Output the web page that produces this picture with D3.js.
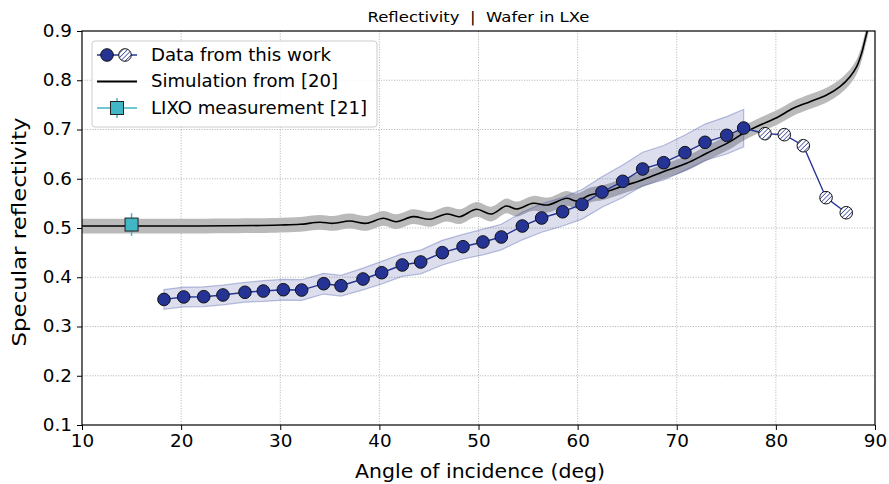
<!DOCTYPE html>
<html>
<head>
<meta charset="utf-8">
<script src="https://cdn.jsdelivr.net/npm/d3@7"></script>
<style>
  html, body { margin: 0; padding: 0; background: #fff; }
  svg { display: block; font-family: "DejaVu Sans", sans-serif; }
</style>
</head>
<body>
<svg id="chart" width="889" height="484"></svg>
<script>
// ---- Data ----
const dataAngle = [18.27, 20.26, 22.28, 24.22, 26.44, 28.29, 30.31, 32.16, 34.38, 36.13,
  38.35, 40.23, 42.31, 44.17, 46.35, 48.44, 50.45, 52.30, 54.42, 56.37,
  58.49, 60.44, 62.46, 64.55, 66.56, 68.68, 70.83, 72.85, 75.04, 76.75];
const dataRefl = [0.355, 0.360, 0.3605, 0.364, 0.3695, 0.372, 0.3747, 0.374, 0.3869, 0.3828,
  0.3964, 0.4092, 0.4249, 0.431, 0.4499, 0.462, 0.4716, 0.4817, 0.504, 0.5203,
  0.533, 0.548, 0.573, 0.5948, 0.6198, 0.6326, 0.653, 0.674, 0.6882, 0.703];
const dataErr = [0.020, 0.020, 0.020, 0.020, 0.020, 0.021, 0.021, 0.021, 0.021, 0.021,
  0.022, 0.023, 0.023, 0.024, 0.025, 0.025, 0.026, 0.026, 0.028, 0.029,
  0.029, 0.030, 0.031, 0.033, 0.034, 0.035, 0.036, 0.037, 0.038, 0.038];
const hatchAngle = [76.75, 78.9, 80.85, 82.77, 85.06, 87.1];
const hatchRefl = [0.703, 0.6915, 0.6895, 0.667, 0.5616, 0.531];

const simAngle = [10, 15, 20, 25, 28, 30, 32, 34.0, 35.35, 37.0, 38.7, 40.4, 41.7, 43.4, 45.1,
  46.8, 48.1, 49.8, 51.3, 52.8, 53.85, 55.5, 57.0, 58.9, 59.9, 61.25, 62.59, 64.6, 66.29,
  68.64, 71.0, 73.02, 75.37, 76.71, 78.4, 80.08, 81.76, 83.44, 85.12, 86.47, 87.48, 88.15,
  88.65, 88.99, 89.32, 89.6];
const simRefl = [0.504, 0.504, 0.504, 0.5045, 0.505, 0.506, 0.5075, 0.5116, 0.5095, 0.5142,
  0.5095, 0.5197, 0.5128, 0.523, 0.5177, 0.5284, 0.523, 0.538, 0.5284, 0.5447, 0.5386,
  0.5501, 0.5467, 0.5603, 0.5548, 0.567, 0.5717, 0.5853, 0.596, 0.6143, 0.6313, 0.6517,
  0.6753, 0.6923, 0.709, 0.724, 0.743, 0.7565, 0.770, 0.787, 0.807, 0.8275, 0.8547,
  0.8817, 0.909, 0.95];
const simErr = 0.015;

const lixoAngle = [15];
const lixoRefl = [0.507];
const lixoErr = [0.023];

const xTicks = [10, 20, 30, 40, 50, 60, 70, 80, 90];
const yTicks = [0.1, 0.2, 0.3, 0.4, 0.5, 0.6, 0.7, 0.8, 0.9];
const legendLabels = ["Data from this work", "Simulation from [20]", "LIXO measurement [21]"];
const titleText = "Reflectivity  |  Wafer in LXe";
const xLabel = "Angle of incidence (deg)";
const yLabel = "Specular reflectivity";

// ---- Layout ----
const W = 889, H = 484;
const m = { left: 82, right: 14, top: 31, bottom: 59 };
const svg = d3.select("#chart");
const x = d3.scaleLinear().domain([10, 90]).range([m.left, W - m.right]);
const y = d3.scaleLinear().domain([0.1, 0.9]).range([H - m.bottom, m.top]);

const navy = "#253494";
const cyan = "#41b6c4";

function stretch(sel, factor) {
  sel.each(function () {
    const L = this.getComputedTextLength();
    d3.select(this).attr("textLength", L * factor).attr("lengthAdjust", "spacingAndGlyphs");
  });
}
function fitTo(sel, len) {
  sel.attr("textLength", len).attr("lengthAdjust", "spacingAndGlyphs");
}

const defs = svg.append("defs");
defs.append("clipPath").attr("id", "clip").append("rect")
  .attr("x", m.left).attr("y", m.top)
  .attr("width", W - m.left - m.right).attr("height", H - m.top - m.bottom);
const pat = defs.append("pattern").attr("id", "hatch")
  .attr("patternUnits", "userSpaceOnUse").attr("width", 3.2).attr("height", 3.2)
  .attr("patternTransform", "rotate(45)");
pat.append("rect").attr("width", 3.2).attr("height", 3.2).attr("fill", "#fff");
pat.append("line").attr("x1", 0).attr("y1", 0).attr("x2", 0).attr("y2", 3.2)
  .attr("stroke", navy).attr("stroke-width", 1.4);

// grid
const grid = svg.append("g");
grid.selectAll(".gx").data(xTicks.slice(1, -1)).enter().append("line")
  .attr("x1", d => x(d)).attr("x2", d => x(d)).attr("y1", m.top).attr("y2", H - m.bottom)
  .attr("stroke", "#a0a0a0").attr("stroke-width", 0.8).attr("stroke-dasharray", "1,1.6");
grid.selectAll(".gy").data(yTicks.slice(1, -1)).enter().append("line")
  .attr("y1", d => y(d)).attr("y2", d => y(d)).attr("x1", m.left).attr("x2", W - m.right)
  .attr("stroke", "#a0a0a0").attr("stroke-width", 0.8).attr("stroke-dasharray", "1,1.6");

const plot = svg.append("g").attr("clip-path", "url(#clip)");

// simulation band + line
const simData = simAngle.map((a, i) => ({ a, r: simRefl[i] }));
plot.append("path").datum(simData)
  .attr("d", d3.area().x(d => x(d.a)).y0(d => y(d.r - simErr)).y1(d => y(d.r + simErr))
    .curve(d3.curveCatmullRom.alpha(0.5)))
  .attr("fill", "#bababa");

// data band
const dData = dataAngle.map((a, i) => ({ a, r: dataRefl[i], e: dataErr[i] }));
plot.append("path").datum(dData)
  .attr("d", d3.area().x(d => x(d.a)).y0(d => y(d.r - d.e)).y1(d => y(d.r + d.e)))
  .attr("fill", navy).attr("fill-opacity", 0.16)
  .attr("stroke", navy).attr("stroke-opacity", 0.3).attr("stroke-width", 1.2);

plot.append("path").datum(simData)
  .attr("d", d3.line().x(d => x(d.a)).y(d => y(d.r)).curve(d3.curveCatmullRom.alpha(0.5)))
  .attr("fill", "none").attr("stroke", "#000").attr("stroke-width", 1.6);

// data line
plot.append("path").datum(dData)
  .attr("d", d3.line().x(d => x(d.a)).y(d => y(d.r)))
  .attr("fill", "none").attr("stroke", navy).attr("stroke-width", 1.4);
const hData = hatchAngle.map((a, i) => ({ a, r: hatchRefl[i] }));
plot.append("path").datum(hData)
  .attr("d", d3.line().x(d => x(d.a)).y(d => y(d.r)))
  .attr("fill", "none").attr("stroke", navy).attr("stroke-width", 1.4);

// markers
plot.selectAll(".hm").data(hData.slice(1)).enter().append("circle")
  .attr("cx", d => x(d.a)).attr("cy", d => y(d.r)).attr("r", 6.3)
  .attr("fill", "url(#hatch)").attr("stroke", "#111").attr("stroke-width", 1);
plot.selectAll(".dm").data(dData).enter().append("circle")
  .attr("cx", d => x(d.a)).attr("cy", d => y(d.r)).attr("r", 6.3)
  .attr("fill", navy).attr("stroke", "#111").attr("stroke-width", 1);

// LIXO
const lData = lixoAngle.map((a, i) => ({ a, r: lixoRefl[i], e: lixoErr[i] }));
plot.selectAll(".le").data(lData).enter().append("line")
  .attr("x1", d => x(d.a)).attr("x2", d => x(d.a))
  .attr("y1", d => y(d.r - d.e)).attr("y2", d => y(d.r + d.e))
  .attr("stroke", cyan).attr("stroke-width", 1.5);
plot.selectAll(".lm").data(lData).enter().append("rect")
  .attr("x", d => x(d.a) - 6.5).attr("y", d => y(d.r) - 6.5)
  .attr("width", 13).attr("height", 13)
  .attr("fill", cyan).attr("stroke", "#222").attr("stroke-width", 1);

// axes
const xAxis = d3.axisBottom(x).tickValues(xTicks).tickFormat(d3.format("d")).tickSize(5).tickPadding(5);
const yAxis = d3.axisLeft(y).tickValues(yTicks).tickFormat(d3.format(".1f")).tickSize(5).tickPadding(5);
const gx = svg.append("g").attr("transform", `translate(0,${H - m.bottom})`).call(xAxis);
const gy = svg.append("g").attr("transform", `translate(${m.left},0)`).call(yAxis);
[gx, gy].forEach(g => {
  g.select(".domain").remove();
  g.selectAll("text").attr("font-size", 17).attr("fill", "#000").attr("font-family", "DejaVu Sans");
  g.selectAll("line").attr("stroke", "#000").attr("stroke-width", 1);
});
stretch(gx.selectAll("text"), 1.08);
stretch(gy.selectAll("text"), 1.08);
svg.append("rect").attr("x", m.left).attr("y", m.top)
  .attr("width", W - m.left - m.right).attr("height", H - m.top - m.bottom)
  .attr("fill", "none").attr("stroke", "#000").attr("stroke-width", 1.2);

// labels
svg.append("text").attr("x", (m.left + W - m.right) / 2).attr("y", 22)
  .attr("text-anchor", "middle").attr("font-size", 14).style("white-space", "pre")
  .text(titleText).call(fitTo, 222);
svg.append("text").attr("x", 480).attr("y", 478)
  .attr("text-anchor", "middle").attr("font-size", 19).text(xLabel).call(fitTo, 250);
svg.append("text").attr("transform", `translate(26,232) rotate(-90)`)
  .attr("text-anchor", "middle").attr("font-size", 19.5).text(yLabel).call(fitTo, 229);

// legend
const lg = svg.append("g");
lg.append("rect").attr("x", 92).attr("y", 41).attr("width", 285).attr("height", 86)
  .attr("rx", 3).attr("fill", "#fff").attr("fill-opacity", 0.85)
  .attr("stroke", "#cccccc").attr("stroke-width", 1);
const rowY = [55, 81.5, 108];
const legendLen = [180, 187, 216];
lg.selectAll(".lt").data(legendLabels).enter().append("text")
  .attr("x", 151).attr("y", (d, i) => rowY[i]).attr("dy", "0.35em")
  .attr("font-size", 17).text(d => d)
  .attr("textLength", (d, i) => legendLen[i]).attr("lengthAdjust", "spacingAndGlyphs");
// row 1
lg.append("line").attr("x1", 97).attr("x2", 137).attr("y1", rowY[0]).attr("y2", rowY[0])
  .attr("stroke", navy).attr("stroke-width", 1.4);
lg.append("circle").attr("cx", 107).attr("cy", rowY[0]).attr("r", 6.3)
  .attr("fill", navy).attr("stroke", "#111");
lg.append("circle").attr("cx", 125).attr("cy", rowY[0]).attr("r", 6.3)
  .attr("fill", "url(#hatch)").attr("stroke", "#111");
// row 2
lg.append("line").attr("x1", 97).attr("x2", 137).attr("y1", rowY[1]).attr("y2", rowY[1])
  .attr("stroke", "#000").attr("stroke-width", 1.8);
// row 3
lg.append("line").attr("x1", 97).attr("x2", 137).attr("y1", rowY[2]).attr("y2", rowY[2])
  .attr("stroke", cyan).attr("stroke-width", 1.5);
lg.append("line").attr("x1", 117).attr("x2", 117).attr("y1", rowY[2] - 10).attr("y2", rowY[2] + 10)
  .attr("stroke", cyan).attr("stroke-width", 1.5);
lg.append("rect").attr("x", 110.5).attr("y", rowY[2] - 6.5).attr("width", 13).attr("height", 13)
  .attr("fill", cyan).attr("stroke", "#222");
</script>
</body>
</html>
